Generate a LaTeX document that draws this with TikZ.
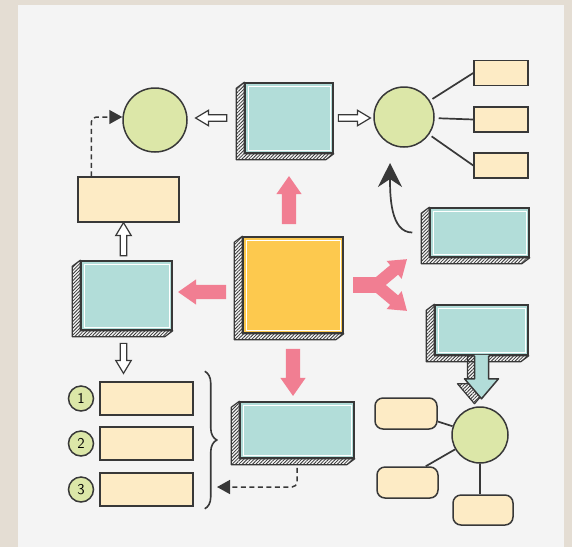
\documentclass[tikz,border=0pt]{standalone}
\usepackage{tikz}
\usetikzlibrary{positioning, calc, shapes.arrows, patterns.meta, decorations.pathreplacing, arrows.meta}

\definecolor{frame}{HTML}{E4DDD3}
\definecolor{paper}{HTML}{F4F4F4}
\definecolor{inkc}{HTML}{383838}
\definecolor{tealc}{HTML}{B2DDD9}
\definecolor{sunc}{HTML}{FDC94E}
\definecolor{creamc}{HTML}{FDEBC5}
\definecolor{leafc}{HTML}{DCE7A8}
\definecolor{pinkc}{HTML}{F17E92}

\tikzset{%
  >={Triangle[length=13pt,width=14pt]},
  % Specifications for style of nodes:
          base/.style = {draw=inkc, line width=1.5pt, inner sep=0pt},
          slab/.style = {base, fill=tealc,
                         path picture={\draw[white, line width=1pt]
                           ([shift={(3pt,-3pt)}]path picture bounding box.north west) rectangle
                           ([shift={(-3pt,3pt)}]path picture bounding box.south east);}},
     slabside/.style = {draw=inkc, line width=1.2pt, line join=round,
                         pattern={Lines[angle=45, distance=2.4pt, line width=0.8pt]}, pattern color=inkc},
          note/.style = {base, fill=creamc},
          pill/.style = {base, fill=creamc, rounded corners=8pt},
        bubble/.style = {base, circle, fill=leafc},
         badge/.style = {bubble, minimum size=25pt, font=\sffamily\fontsize{15}{15}\selectfont},
     openarrow/.style = {single arrow, draw=inkc, line width=1.2pt, fill=white,
                         inner xsep=0pt, inner ysep=2.6pt, minimum width=0pt,
                         single arrow head extend=4.5pt, single arrow tip angle=62},
     pinkarrow/.style = {single arrow, fill=pinkc, inner xsep=0pt, inner ysep=7pt, minimum width=0pt,
                         single arrow head extend=5.5pt, single arrow tip angle=70},
          link/.style = {draw=inkc, line width=1.7pt},
      dashline/.style = {draw=inkc, line width=1.5pt, dash pattern=on 5pt off 3.5pt,
                         rounded corners=5pt, fill=none},
       bracket/.style = {draw=inkc, line width=1.6pt, decorate,
                         decoration={brace, amplitude=12pt}},
}

\begin{document}
\begin{tikzpicture}[x=1pt, y=-1pt]
  \useasboundingbox (0,0) rectangle (572,547);
  \fill[frame] (0,0) rectangle (572,547);
  \fill[paper] (18,5) rectangle (564,547);

  % Specification of nodes (position, etc.)
  \node (tbox)    [slab, minimum width=88pt, minimum height=70pt]  at (289,118) {};
  \node (lcirc)   [bubble, minimum size=64pt]                      at (155,120) {};
  \node (rcirc)   [bubble, minimum size=60pt]                      at (404,117) {};
  \node (s1)      [note, minimum width=54pt, minimum height=25pt]  at (501,73) {};
  \node (s2)      [note, minimum width=54pt, minimum height=25pt]  at (501,119.5) {};
  \node (s3)      [note, minimum width=54pt, minimum height=25pt]  at (501,165.5) {};
  \node (lybox)   [note, minimum width=101pt, minimum height=45pt] at (128.5,199.5) {};
  \node (lbox)    [slab, minimum width=91pt, minimum height=69pt]  at (126.5,295.5) {};
  \node (cbox)    [slab, fill=sunc, minimum width=100pt, minimum height=96pt] at (293,285) {};
  \node (rbox)    [slab, minimum width=99pt, minimum height=49pt]  at (479.5,232.5) {};
  \node (callout) [slab, minimum width=93pt, minimum height=50pt]  at (481.5,330) {};
  \node (bbox)    [slab, minimum width=114pt, minimum height=56pt] at (297,430) {};

  \node (item1)   [note, minimum width=93pt, minimum height=33pt]  at (146.5,398.5) {};
  \node (item2)   [note, minimum width=93pt, minimum height=33pt]  at (146.5,443.5) {};
  \node (item3)   [note, minimum width=93pt, minimum height=33pt]  at (146.5,489.5) {};
  \node (n1)      [badge, left=5pt of item1] {1};
  \node (n2)      [badge, left=5pt of item2] {2};
  \node (n3)      [badge, left=5pt of item3] {3};

  \node (bcirc)   [bubble, minimum size=56pt]                      at (480,435) {};
  \node (r1)      [pill, minimum width=62pt, minimum height=31pt]  at (406,413.5) {};
  \node (r2)      [pill, minimum width=61pt, minimum height=31pt]  at (407.5,482.5) {};
  \node (r3)      [pill, minimum width=60pt, minimum height=30pt]  at (483,510) {};

  % hatched sides of the slabs
  \foreach \b in {tbox, lbox, cbox, rbox, callout, bbox}
    \draw[slabside] (\b.north west) -- ++(-8,6) -- ($(\b.south west)+(-8,6)$)
      -- ($(\b.south east)+(-8,6)$) -- (\b.south east) -- (\b.south west) -- cycle;

  % tail of the callout
  \draw[slabside] ($(callout.south)+(-14,0)$) -- ++(0,28) -- ++(-10,0) -- ++(17,20)
    -- ++(17,-20) -- ++(-10,0) -- ++(0,-28) -- cycle;
  \fill[tealc] ($(callout.south)+(-7,-1)$) -- ++(0,24) -- ++(-10,0) -- ++(17,20)
    -- ++(17,-20) -- ++(-10,0) -- ++(0,-24) -- cycle;
  \draw[base, line join=round] ($(callout.south)+(-7,0)$) -- ++(0,23) -- ++(-10,0) -- ++(17,20)
    -- ++(17,-20) -- ++(-10,0) -- ++(0,-23);

  % hollow arrows
  \node (ha1) [openarrow, rotate=180, anchor=tail, minimum height=31pt] at ([xshift=-17pt]tbox.west) {};
  \node (ha2) [openarrow, anchor=tail, minimum height=32pt] at ([xshift=4pt]tbox.east) {};
  \node (ha3) [openarrow, rotate=90, anchor=tail, minimum height=33pt] at ([xshift=-3pt,yshift=4pt]lbox.north) {};
  \node (ha4) [openarrow, rotate=-90, anchor=tail, minimum height=30pt] at ([xshift=-3pt,yshift=-12pt]lbox.south) {};

  % pink arrows
  \node (pup)    [pinkarrow, rotate=90, anchor=tail, minimum height=48pt] at ([xshift=-4pt,yshift=12pt]cbox.north) {};
  \node (pleft)  [pinkarrow, rotate=180, anchor=tail, minimum height=48pt] at ([xshift=-16pt,yshift=-7pt]cbox.west) {};
  \node (pdown)  [pinkarrow, rotate=-90, anchor=tail, minimum height=47pt] at ([yshift=-15pt]cbox.south) {};
  \node (pstem)  [fill=pinkc, anchor=west, minimum width=26pt, minimum height=16pt, inner sep=0pt] at ([xshift=9pt]cbox.east) {};
  \node (pforkup)   [pinkarrow, rotate=40, anchor=tail, minimum height=40pt, inner ysep=6pt] at ([xshift=-3pt]pstem.east) {};
  \node (pforkdown) [pinkarrow, rotate=-40, anchor=tail, minimum height=40pt, inner ysep=6pt] at ([xshift=-3pt]pstem.east) {};

  % connectors
  \draw[link, shorten <=3pt] (rcirc) -- (s1.west);
  \draw[link, shorten <=4pt] (rcirc) -- (s2.west);
  \draw[link, shorten <=3pt] (rcirc) -- (s3.west);
  \draw[link] (bcirc) -- ([yshift=-8pt]r1.east);
  \draw[link] (bcirc) -- ([xshift=-13pt]r2.north east);
  \draw[link] (bcirc.south) -- (bcirc.south |- r3.north);

  \draw[dashline, ->] ([xshift=14pt]lybox.north west) |- ([yshift=3pt]lcirc.west);
  \coordinate (backtip) at (217,487);
  \draw[dashline, ->] ([yshift=-9pt]bbox.south) |- (backtip);

  \draw[bracket] ([xshift=11pt,yshift=10pt]item1.north east) -- ([xshift=11pt,yshift=-2pt]item3.south east);

  \coordinate (curvetip) at (390,163);
  \draw[link, -{Stealth[length=24pt,width=24pt,inset=8pt]}]
    ([xshift=-17pt]rbox.west) .. controls +(-22,0) and +(0,32) .. (curvetip);

\end{tikzpicture}
\end{document}
